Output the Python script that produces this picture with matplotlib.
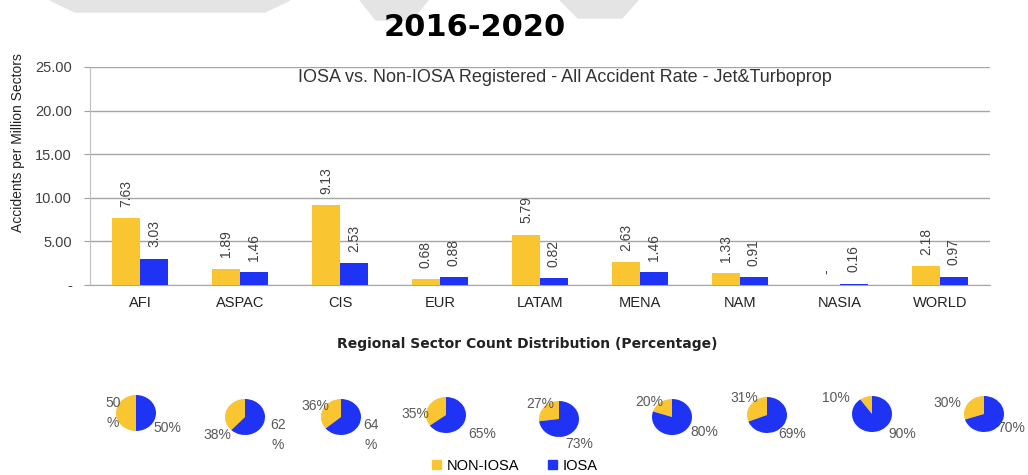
import matplotlib
matplotlib.use("Agg")
import matplotlib.pyplot as plt
import numpy as np
from matplotlib.patches import Polygon, Patch

categories = ["AFI", "ASPAC", "CIS", "EUR", "LATAM", "MENA", "NAM", "NASIA", "WORLD"]
non_iosa = [7.63, 1.89, 9.13, 0.68, 5.79, 2.63, 1.33, 0.0, 2.18]
iosa = [3.03, 1.46, 2.53, 0.88, 0.82, 1.46, 0.91, 0.16, 0.97]
non_iosa_labels = ["7.63", "1.89", "9.13", "0.68", "5.79", "2.63", "1.33", "-", "2.18"]
iosa_labels = ["3.03", "1.46", "2.53", "0.88", "0.82", "1.46", "0.91", "0.16", "0.97"]
yticks = [0, 5, 10, 15, 20, 25]
ytick_labels = ["-", "5.00", "10.00", "15.00", "20.00", "25.00"]
share_non_iosa = [50, 38, 36, 35, 27, 20, 31, 10, 30]
share_iosa = [50, 62, 64, 65, 73, 80, 69, 90, 70]
share_non_iosa_text = ["50\n%", "38%", "36%", "35%", "27%", "20%", "31%", "10%", "30%"]
share_iosa_text = ["50%", "62\n%", "64\n%", "65%", "73%", "80%", "69%", "90%", "70%"]

YELLOW = "#F9C530"
BLUE = "#1F33F5"
TXT = "#595959"
FONT = ["Liberation Sans", "DejaVu Sans"]
plt.rcParams["font.family"] = FONT

W, H = 1028, 475
fig = plt.figure(figsize=(W / 100, H / 100), dpi=100)

# faint watermark shapes at top
wm = "#E4E4E4"
for poly in ([[50, 0], [290, 0], [265, 12], [75, 12]],
             [[360, 0], [428, 0], [412, 20], [376, 20]],
             [[560, 0], [638, 0], [622, 18], [578, 18]]):
    fig.patches.append(Polygon([[px / W, 1 - py / H] for px, py in poly], closed=True,
                               transform=fig.transFigure, color=wm, zorder=0))

fig.text(475 / W, 1 - 28 / H, "2016-2020", ha="center", va="center",
         fontsize=22, fontweight="bold", family=["DejaVu Sans"], color="black")

# bar axes
ax = fig.add_axes([90 / W, 1 - 285 / H, 900 / W, 218 / H])
x = np.arange(len(categories))
bw = 0.28
b1 = ax.bar(x - bw / 2, non_iosa, bw, color=YELLOW, zorder=3)
b2 = ax.bar(x + bw / 2, iosa, bw, color=BLUE, zorder=3)
for bars, labs in ((b1, non_iosa_labels), (b2, iosa_labels)):
    for r, lab in zip(bars, labs):
        ax.annotate(lab, (r.get_x() + r.get_width() / 2, r.get_height()),
                    xytext=(0, 8), textcoords="offset points", rotation=90,
                    ha="center", va="bottom", fontsize=10, color="#404040")
ax.set_xlim(-0.5, len(categories) - 0.5)
ax.set_ylim(0, 25)
ax.set_yticks(yticks)
ax.set_yticklabels(ytick_labels, fontsize=10.5, color="#404040")
ax.set_xticks(x)
ax.set_xticklabels(categories, fontsize=10.5, color="#222222")
ax.tick_params(axis="y", length=4, pad=9, color="#A0A0A0")
ax.tick_params(axis="x", length=0, pad=8)
ax.grid(axis="y", color="#A6A6A6", linewidth=1, zorder=0)
for s in ["top", "right"]:
    ax.spines[s].set_visible(False)
ax.spines["left"].set_color("#BFBFBF")
ax.spines["bottom"].set_color("#A6A6A6")
fig.text(18 / W, 1 - 143 / H, "Accidents per Million Sectors", rotation=90, ha="center",
         va="center", fontsize=10, color="#222222")
ax.text((565 - 90) / 900, 1 - 11 / 218, "IOSA vs. Non-IOSA Registered - All Accident Rate - Jet&Turboprop",
        transform=ax.transAxes, ha="center", va="center", fontsize=13, color="#333333")

fig.text(527 / W, 1 - 344 / H, "Regional Sector Count Distribution (Percentage)", ha="center",
         va="center", fontsize=10, fontweight="bold", family=["DejaVu Sans"], color="#222222")

# pies
centers = [(136, 413), (245, 417), (341, 417), (446, 415), (559, 419),
           (672, 417), (767, 415), (872, 414), (984, 414)]
ylab_pos = [(113, 413), (217, 435), (315, 406), (415, 414), (540, 404),
            (649, 402), (744, 398), (836, 398), (947, 403)]
blab_pos = [(167, 428), (278, 435), (371, 435), (482, 434), (579, 444),
            (704, 432), (792, 434), (902, 434), (1011, 428)]
rx, ry = 20, 18
for i in range(len(categories)):
    cx, cy = centers[i]
    pax = fig.add_axes([(cx - rx) / W, 1 - (cy + ry) / H, 2 * rx / W, 2 * ry / H])
    pax.pie([share_non_iosa[i], share_iosa[i]], colors=[YELLOW, BLUE], startangle=90,
            counterclock=True, wedgeprops=dict(linewidth=0))
    pax.set_aspect("auto")
    pax.set_xlim(-1, 1)
    pax.set_ylim(-1, 1)
    pax.axis("off")
    for (px, py), t in ((ylab_pos[i], share_non_iosa_text[i]), (blab_pos[i], share_iosa_text[i])):
        fig.text(px / W, 1 - py / H, t, ha="center", va="center", fontsize=10,
                 color=TXT, linespacing=1.5)

# legend
handles = [Patch(color=YELLOW, label="NON-IOSA"), Patch(color=BLUE, label="IOSA")]
fig.legend(handles=handles, loc="center", bbox_to_anchor=(515 / W, 1 - 466 / H), ncol=2,
           frameon=False, fontsize=10.5, handlelength=0.6, handleheight=0.6,
           handletextpad=0.4, columnspacing=2.0)

fig.savefig("out.png", dpi=100)
